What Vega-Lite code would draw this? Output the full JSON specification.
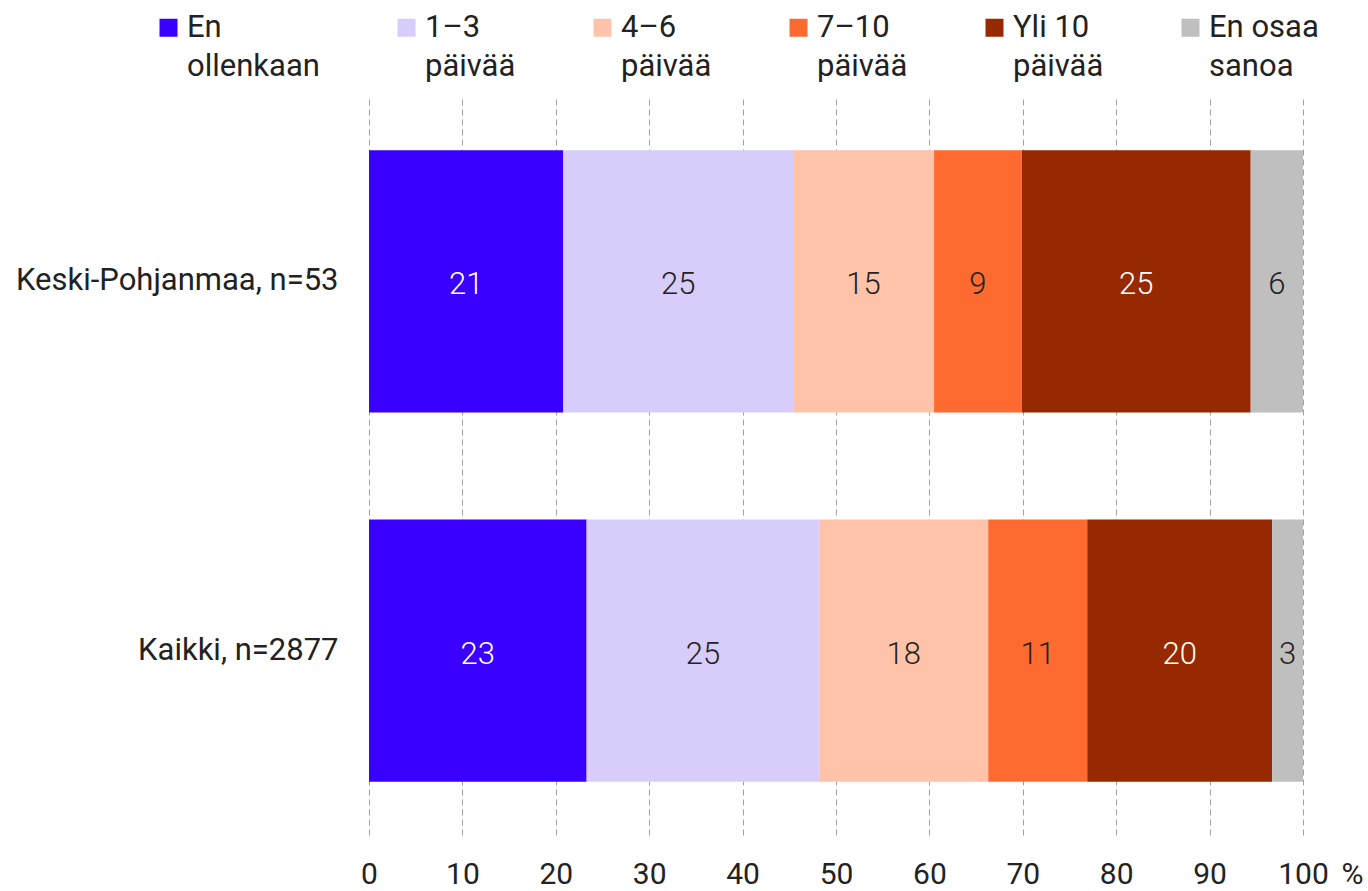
{
  "$schema": "https://vega.github.io/schema/vega-lite/v6.json",
  "width": 934,
  "height": 738,
  "autosize": {"type": "none"},
  "padding": {"left": 369, "top": 97, "right": 65, "bottom": 56},
  "background": "white",
  "config": {
    "view": {"stroke": null},
    "font": "Roboto",
    "style": {"guide-label": {"lineHeight": 39}},
    "axis": {"labelFont": "Roboto", "titleFont": "Roboto", "labelColor": "#222222", "titleColor": "#222222"},
    "legend": {"labelFont": "Roboto", "labelColor": "#222222"}
  },
  "data": {
    "values": [
      {"group": "Keski-Pohjanmaa, n=53", "cat": "En ollenkaan", "k": 1, "value": 20.8, "label": 21},
      {"group": "Keski-Pohjanmaa, n=53", "cat": "1–3 päivää", "k": 2, "value": 24.6, "label": 25},
      {"group": "Keski-Pohjanmaa, n=53", "cat": "4–6 päivää", "k": 3, "value": 15.1, "label": 15},
      {"group": "Keski-Pohjanmaa, n=53", "cat": "7–10 päivää", "k": 4, "value": 9.4, "label": 9},
      {"group": "Keski-Pohjanmaa, n=53", "cat": "Yli 10 päivää", "k": 5, "value": 24.5, "label": 25},
      {"group": "Keski-Pohjanmaa, n=53", "cat": "En osaa sanoa", "k": 6, "value": 5.6, "label": 6},
      {"group": "Kaikki, n=2877", "cat": "En ollenkaan", "k": 1, "value": 23.3, "label": 23},
      {"group": "Kaikki, n=2877", "cat": "1–3 päivää", "k": 2, "value": 24.9, "label": 25},
      {"group": "Kaikki, n=2877", "cat": "4–6 päivää", "k": 3, "value": 18.1, "label": 18},
      {"group": "Kaikki, n=2877", "cat": "7–10 päivää", "k": 4, "value": 10.6, "label": 11},
      {"group": "Kaikki, n=2877", "cat": "Yli 10 päivää", "k": 5, "value": 19.8, "label": 20},
      {"group": "Kaikki, n=2877", "cat": "En osaa sanoa", "k": 6, "value": 3.3, "label": 3}
    ]
  },
  "encoding": {
    "y": {
      "field": "group", "type": "nominal",
      "sort": ["Keski-Pohjanmaa, n=53", "Kaikki, n=2877"],
      "scale": {"paddingInner": 0.29, "paddingOuter": 0.144},
      "axis": {"title": null, "ticks": false, "domain": false, "labelPadding": 31, "labelFontSize": 31, "labelLimit": 400}
    }
  },
  "layer": [
    {
      "mark": {"type": "bar"},
      "encoding": {
        "x": {
          "field": "value", "type": "quantitative", "stack": "zero",
          "scale": {"domain": [0, 100], "nice": false},
          "axis": {
            "values": [0, 10, 20, 30, 40, 50, 60, 70, 80, 90, 100],
            "grid": true, "gridDash": [6, 4], "gridColor": "#a0a0a0", "gridWidth": 1,
            "ticks": false, "domain": false, "labelFlush": false,
            "labelPadding": 24, "labelFontSize": 30,
            "title": "%", "titleAngle": 0, "titleFontSize": 30, "titleFontWeight": "normal",
            "titleX": 983, "titleY": 24, "titleAlign": "center", "titleBaseline": "top"
          }
        },
        "color": {
          "field": "cat", "type": "nominal",
          "scale": {
            "domain": ["En ollenkaan", "1–3 päivää", "4–6 päivää", "7–10 päivää", "Yli 10 päivää", "En osaa sanoa"],
            "range": ["#3a00ff", "#d8ccfb", "#ffc3aa", "#ff6a30", "#972900", "#bfbfbf"]
          },
          "legend": {
            "title": null,
            "orient": "none",
            "legendX": -216,
            "legendY": -85,
            "direction": "horizontal",
            "columns": 6,
            "columnPadding": 71,
            "symbolType": "square",
            "symbolSize": 324,
            "symbolStrokeWidth": 0,
            "labelFontSize": 31,
            "labelOffset": 3,
            "labelLimit": 300,
            "labelExpr": "[substring(datum.label, 0, lastindexof(datum.label, ' ')), substring(datum.label, lastindexof(datum.label, ' ') + 1)]",
            "encoding": {
              "labels": {"update": {"lineHeight": {"value": 39}}}
            }
          }
        },
        "order": {"field": "k", "type": "quantitative"}
      }
    },
    {
      "mark": {"type": "text", "fontSize": 31, "font": "Roboto", "fontWeight": 300, "dy": 4},
      "encoding": {
        "x": {"field": "value", "type": "quantitative", "stack": "zero", "bandPosition": 0.5},
        "detail": {"field": "cat", "type": "nominal"},
        "order": {"field": "k", "type": "quantitative"},
        "text": {"field": "label", "type": "quantitative"},
        "color": {
          "condition": {"test": "datum.cat === 'En ollenkaan' || datum.cat === 'Yli 10 päivää'", "value": "#ffffff"},
          "value": "#222222"
        }
      }
    }
  ]
}
